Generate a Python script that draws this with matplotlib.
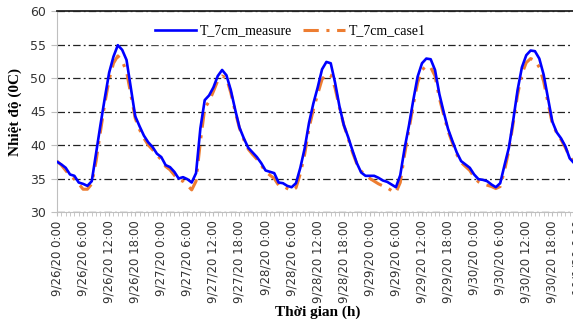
import matplotlib
matplotlib.use("Agg")
import matplotlib.pyplot as plt
import matplotlib.dates as mdates
import pandas as pd

# hourly readings, 9/26/20 0:00 .. 10/1/20 0:00
times = pd.date_range("2020-09-26 00:00", periods=121, freq="h")

t_measure = [
    37.5, 37.1, 36.6, 35.6, 35.4, 34.4, 34.2, 33.9, 34.6, 38.8,
    43.0, 47.0, 50.8, 53.2, 54.9, 54.2, 52.7, 48.5, 44.3, 42.8,
    41.4, 40.4, 39.7, 38.7, 38.2, 37.0, 36.7, 36.0, 35.0, 35.2,
    34.9, 34.4, 35.8, 42.5, 46.7, 47.4, 48.6, 50.3, 51.2, 50.4,
    48.2, 45.3, 42.6, 41.0, 39.6, 38.9, 38.2, 37.3, 36.2, 36.0,
    35.8, 34.4, 34.3, 33.9, 33.7, 34.3, 36.6, 39.5, 43.3, 46.2,
    48.6, 51.3, 52.4, 52.2, 49.3, 45.8, 43.0, 41.2, 39.2, 37.3,
    35.9, 35.4, 35.4, 35.4, 35.1, 34.7, 34.5, 34.1, 33.7, 35.5,
    39.5, 42.9, 46.7, 50.2, 52.2, 52.9, 52.8, 51.2, 47.6, 44.9,
    42.4, 40.6, 38.9, 37.6, 37.1, 36.6, 35.6, 34.9, 34.8, 34.6,
    34.1, 33.7, 34.3, 37.0, 39.6, 43.7, 48.2, 51.6, 53.4, 54.1,
    54.0, 52.9, 50.5, 47.0, 43.5, 41.9, 41.0, 39.8, 38.0, 37.3,
    36.8,
]

t_case1 = [
    37.6, 37.0, 36.2, 35.4, 34.9, 34.2, 33.4, 33.4, 34.2, 37.6,
    42.0, 46.2, 49.8, 52.2, 53.3, 52.5, 51.0, 47.5, 44.0, 42.3,
    41.0, 40.0, 39.3, 38.5, 37.8, 36.8, 36.3, 35.5, 34.8, 34.6,
    34.0, 33.3, 34.6, 40.5, 45.5, 46.5, 48.0, 49.6, 50.3, 50.0,
    47.8, 45.0, 42.5, 40.8, 39.4, 38.6, 37.9, 37.0, 36.0, 35.5,
    35.0, 34.0, 33.9, 33.5, 33.2, 33.6, 35.7, 38.6, 42.5, 45.3,
    47.6, 49.8, 50.6, 50.4, 48.5, 45.6, 43.0, 41.0, 38.9, 37.2,
    36.1, 35.5, 35.0, 34.6, 34.2, 33.9, 33.6, 33.2, 32.9, 34.4,
    38.6, 42.3, 46.0, 49.3, 51.2, 51.8, 51.6, 50.3, 47.0, 44.5,
    42.1, 40.3, 38.6, 37.4, 36.8, 36.2, 35.2, 34.5, 34.2, 34.0,
    33.8, 33.5, 33.8, 36.2, 39.2, 43.3, 47.5, 50.6, 52.3, 52.9,
    52.6, 51.6, 49.5, 46.3, 43.2, 41.8, 40.8, 39.6, 38.2, 37.5,
    37.0,
]

serif = "Liberation Serif"

fig = plt.figure(figsize=(5.73, 3.28), dpi=100)
ax = fig.add_axes([57 / 573, 116 / 328, 521.4 / 573, 201 / 328])

ax.plot(times, t_measure, color="#0000FF", lw=1.9, label="T_7cm_measure",
        solid_joinstyle="round", zorder=3)
ax.plot(times, t_case1, color="#ED7D31", lw=2.2, dashes=(5, 2.5, 1, 2.5),
        dash_joinstyle="round", label="T_7cm_case1", zorder=2)

ax.set_xlim(times[0], times[-1])
ax.set_ylim(30, 60)
ax.set_yticks(range(30, 61, 5))
ax.yaxis.grid(True, color="#222222", lw=0.9, dashes=(6, 2.5, 1.5, 2.5))
ax.set_axisbelow(True)

ax.xaxis.set_major_locator(mdates.HourLocator(byhour=[0, 6, 12, 18]))
ax.xaxis.set_minor_locator(mdates.HourLocator())


def fmt_date(x, pos=None):
    d = mdates.num2date(x)
    return f"{d.month}/{d.day}/{d:%y} {d.hour}:{d.minute:02d}"


ax.xaxis.set_major_formatter(plt.FuncFormatter(fmt_date))
plt.setp(ax.get_xticklabels(), rotation=90, fontsize=8.5, color="#333333")
plt.setp(ax.get_yticklabels(), fontsize=9, color="#333333")
ax.tick_params(axis="x", which="both", length=3, color="#BFBFBF", pad=3)
ax.tick_params(axis="y", length=4, color="#BFBFBF", pad=4)

for side in ("left", "bottom"):
    ax.spines[side].set_color("#BFBFBF")
ax.spines["top"].set_color("#222222")
ax.spines["top"].set_linewidth(1.3)
ax.spines["right"].set_visible(False)

ax.set_ylabel("Nhiệt độ (0C)", family=serif, fontweight="bold", fontsize=11, labelpad=6)
ax.set_xlabel("Thời gian (h)", family=serif, fontweight="bold", fontsize=11, labelpad=2)

leg = ax.legend(loc="center", bbox_to_anchor=(290 / 573, 1 - 31 / 328),
                bbox_transform=fig.transFigure, ncol=2, frameon=True,
                fancybox=False, edgecolor="white", facecolor="white", framealpha=1,
                prop={"family": serif, "size": 10}, handlelength=3.0,
                handletextpad=0.25, columnspacing=0.8, borderpad=0.5)

fig.savefig("out.png", dpi=100)
